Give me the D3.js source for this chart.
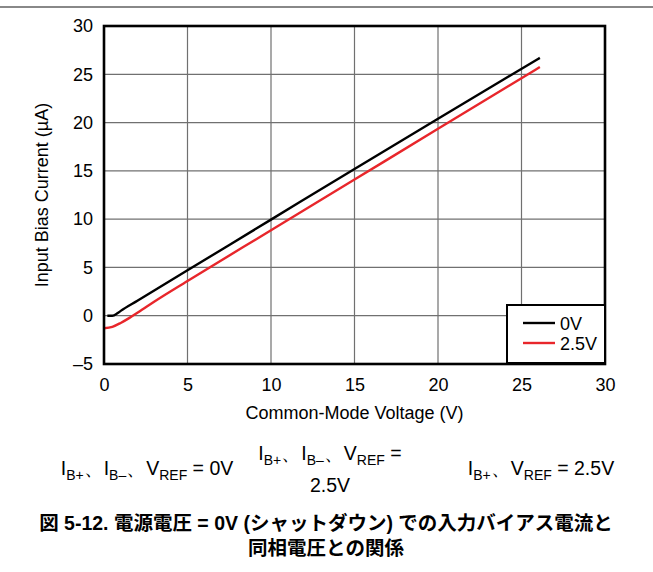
<!DOCTYPE html>
<html>
<head>
<meta charset="utf-8">
<script src="https://cdn.jsdelivr.net/npm/d3@7"></script>
<style>
  body { margin: 0; background: #fff; }
  svg { display: block; font-family: "Liberation Sans", Arial, sans-serif; }
</style>
</head>
<body>
<svg width="653" height="572"></svg>
<script>
(function () {
    'use strict'

    // common-mode voltage (V) and input bias current (uA) for each supply setting
    const vcm0 = [0.2, 0.5, 0.8, 1, 2, 5, 10, 15, 20, 26.1];
    const ib0 = [0, 0, 0.25, 0.5, 1.55, 4.7, 9.95, 15.2, 20.4, 26.7];
    const vcm25 = [0, 0.5, 1, 1.5, 2, 2.5, 3, 5, 10, 15, 20, 26.1];
    const ib25 = [-1.3, -1.15, -0.75, -0.25, 0.3, 0.88, 1.45, 3.6, 8.85, 14.1, 19.35, 25.75];

    const seriesNames = ['0V', '2.5V'];
    const seriesColors = ['#000000', '#e8262b'];
    const xTicks = [0, 5, 10, 15, 20, 25, 30];
    const yTicks = [-5, 0, 5, 10, 15, 20, 25, 30];

    const FS = 18;

    let svg = d3.select('svg'),
        margin = { top: 26, right: 48, bottom: 208, left: 104 },
        width = +svg.attr('width') - margin.left - margin.right,
        height = +svg.attr('height') - margin.top - margin.bottom;

    // page separator line at the very top
    svg.append('line')
        .attr('x1', 0).attr('x2', 653)
        .attr('y1', 7).attr('y2', 7)
        .attr('stroke', '#888').attr('stroke-width', 2);

    let g = svg.append('g').attr('transform', 'translate(' + margin.left + ',' + margin.top + ')');

    let x = d3.scaleLinear().domain([0, 30]).range([0, width]);
    let y = d3.scaleLinear().domain([-5, 30]).range([height, 0]);

    // grid
    g.append('g')
        .selectAll('line')
        .data(xTicks.slice(1, -1))
        .enter().append('line')
        .attr('x1', d => x(d)).attr('x2', d => x(d))
        .attr('y1', 0).attr('y2', height)
        .attr('stroke', '#707070').attr('stroke-width', 1.2);

    g.append('g')
        .selectAll('line')
        .data(yTicks.slice(1, -1))
        .enter().append('line')
        .attr('x1', 0).attr('x2', width)
        .attr('y1', d => y(d)).attr('y2', d => y(d))
        .attr('stroke', '#707070').attr('stroke-width', 1.2);

    // axes: labels only, the frame is drawn separately
    let xAxis = d3.axisBottom(x).tickValues(xTicks).tickSize(0).tickPadding(14);
    let yAxis = d3.axisLeft(y).tickValues(yTicks).tickSize(0).tickPadding(11)
        .tickFormat(d => d < 0 ? '\u2013' + Math.abs(d) : d);

    g.append('g')
        .attr('transform', 'translate(0,' + height + ')')
        .call(xAxis)
        .call(a => a.select('.domain').remove())
        .selectAll('text').attr('font-size', FS).attr('fill', '#000')
        .attr('font-family', '"Liberation Sans", Arial, sans-serif');

    g.append('g')
        .call(yAxis)
        .call(a => a.select('.domain').remove())
        .selectAll('text').attr('font-size', FS).attr('fill', '#000')
        .attr('font-family', '"Liberation Sans", Arial, sans-serif');

    // curves
    let line = d3.line()
        .x(d => x(d[0]))
        .y(d => y(d[1]))
        .curve(d3.curveMonotoneX);

    let series = [
        d3.zip(vcm0, ib0),
        d3.zip(vcm25, ib25)
    ];

    g.selectAll('path.curve')
        .data(series)
        .enter().append('path')
        .attr('class', 'curve')
        .attr('fill', 'none')
        .attr('stroke', (d, i) => seriesColors[i])
        .attr('stroke-width', 2.4)
        .attr('d', line);

    // frame
    g.append('rect')
        .attr('x', 0).attr('y', 0)
        .attr('width', width).attr('height', height)
        .attr('fill', 'none').attr('stroke', '#000').attr('stroke-width', 2.6);

    // legend
    let lg = g.append('g').attr('transform', 'translate(' + (width - 98) + ',' + (height - 59) + ')');
    lg.append('rect')
        .attr('width', 98).attr('height', 58)
        .attr('fill', '#fff').attr('stroke', '#000').attr('stroke-width', 2);
    seriesNames.forEach(function (name, i) {
        lg.append('line')
            .attr('x1', 16).attr('x2', 48)
            .attr('y1', 18 + i * 20).attr('y2', 18 + i * 20)
            .attr('stroke', seriesColors[i]).attr('stroke-width', 2.4);
        lg.append('text')
            .attr('x', 53).attr('y', 24.5 + i * 20)
            .attr('font-size', FS)
            .text(name);
    });

    // axis titles
    svg.append('text')
        .attr('x', margin.left + width / 2).attr('y', 419)
        .attr('text-anchor', 'middle').attr('font-size', FS)
        .text('Common-Mode Voltage (V)');

    svg.append('text')
        .attr('transform', 'translate(48,' + (margin.top + height / 2) + ') rotate(-90)')
        .attr('text-anchor', 'middle').attr('font-size', FS)
        .text('Input Bias Current (\u00b5A)');

    // condition notes: "I" / "V" followed by a subscript, separated by 、
    const NFS = 19.5;
    function note(t, parts, tail) {
        parts.forEach(function (p, i) {
            t.append('tspan').text(p[0]);
            t.append('tspan').attr('font-size', 14).attr('dy', 5).text(p[1]);
            if (i < parts.length - 1)
                t.append('tspan').attr('dy', -5).text('\u3001');
            else
                t.append('tspan').attr('dy', -5).text(tail);
        });
    }

    let n1 = svg.append('text').attr('x', 147).attr('y', 475)
        .attr('text-anchor', 'middle').attr('font-size', NFS);
    note(n1, [['I', 'B+'], ['I', 'B\u2013'], ['V', 'REF']], ' = 0V');

    let n2 = svg.append('text').attr('x', 330).attr('y', 460)
        .attr('text-anchor', 'middle').attr('font-size', NFS);
    note(n2, [['I', 'B+'], ['I', 'B\u2013'], ['V', 'REF']], ' =');
    svg.append('text').attr('x', 330).attr('y', 492)
        .attr('text-anchor', 'middle').attr('font-size', NFS).text('2.5V');

    let n3 = svg.append('text').attr('x', 541).attr('y', 475)
        .attr('text-anchor', 'middle').attr('font-size', NFS);
    note(n3, [['I', 'B+'], ['V', 'REF']], ' = 2.5V');

    // caption
    let cap = svg.append('text')
        .attr('text-anchor', 'middle').attr('font-size', 19.5).attr('font-weight', 'bold')
        .attr('font-family', '"Liberation Sans", "Noto Sans CJK JP", sans-serif');
    cap.append('tspan').attr('x', 326).attr('y', 530)
        .text('\u56f3 5-12. \u96fb\u6e90\u96fb\u5727 = 0V (\u30b7\u30e3\u30c3\u30c8\u30c0\u30a6\u30f3) \u3067\u306e\u5165\u529b\u30d0\u30a4\u30a2\u30b9\u96fb\u6d41\u3068');
    cap.append('tspan').attr('x', 326).attr('y', 555)
        .text('\u540c\u76f8\u96fb\u5727\u3068\u306e\u95a2\u4fc2');
})();
</script>
</body>
</html>
